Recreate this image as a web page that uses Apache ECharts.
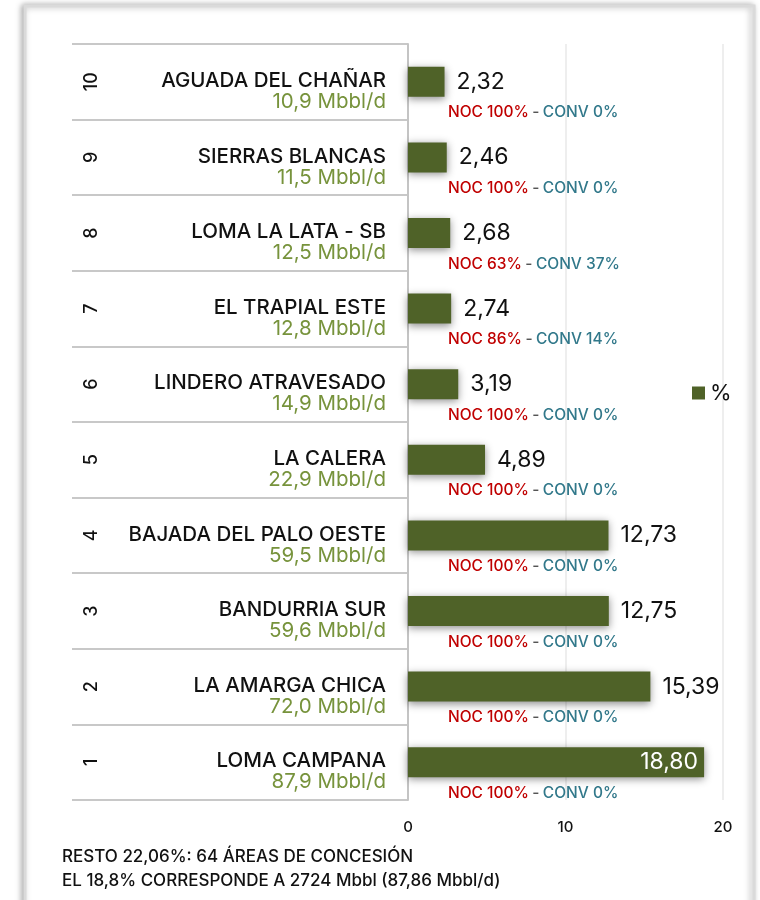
<!DOCTYPE html>
<html>
<head>
<meta charset="utf-8">
<script src="https://cdn.jsdelivr.net/npm/echarts@6/dist/echarts.min.js"></script>
<style>
  html, body { margin: 0; padding: 0; background: #fff; }
  #main { width: 760px; height: 900px; }
</style>
</head>
<body>
<div id="main"></div>
<script>
// rank 1 at bottom, rank 10 at top
var ranks = ['1', '2', '3', '4', '5', '6', '7', '8', '9', '10'];
var areas = ['LOMA CAMPANA', 'LA AMARGA CHICA', 'BANDURRIA SUR', 'BAJADA DEL PALO OESTE', 'LA CALERA',
             'LINDERO ATRAVESADO', 'EL TRAPIAL ESTE', 'LOMA LA LATA - SB', 'SIERRAS BLANCAS', 'AGUADA DEL CHAÑAR'];
var produccion = ['87,9', '72,0', '59,6', '59,5', '22,9', '14,9', '12,8', '12,5', '11,5', '10,9'];
var porcentaje = [18.80, 15.39, 12.75, 12.73, 4.89, 3.19, 2.74, 2.68, 2.46, 2.32];
var noc = [100, 100, 100, 100, 100, 100, 86, 63, 100, 100];
var conv = [0, 0, 0, 0, 0, 0, 14, 37, 0, 0];
var xTicks = [0, 10, 20];

var FONT = 'Inter';
var chart = echarts.init(document.getElementById('main'));

function coma(v) { return v.toFixed(2).replace('.', ','); }

chart.setOption({
  animation: false,
  textStyle: { fontFamily: FONT },
  title: {
    text: 'RESTO 22,06%: 64 ÁREAS DE CONCESIÓN\nEL 18,8% CORRESPONDE A 2724 Mbbl (87,86 Mbbl/d)',
    left: 57, top: 840,
    textStyle: { fontFamily: FONT, fontSize: 17, fontWeight: 500, color: '#111', lineHeight: 24 }
  },
  legend: {
    data: ['%'],
    left: 687, top: 377,
    icon: 'rect', itemWidth: 13, itemHeight: 13, itemGap: 8,
    textStyle: { fontFamily: FONT, fontSize: 22, color: '#111' }
  },
  graphic: [{
    type: 'rect', z: -10,
    shape: { x: 25, y: 6, width: 729, height: 940 },
    style: { fill: '#fff', stroke: '#dadada', lineWidth: 3, shadowBlur: 6, shadowColor: 'rgba(0,0,0,0.3)', shadowOffsetX: -2 }
  }],
  grid: [
    { left: 72, top: 44, width: 336, height: 756 },
    { left: 408, top: 44, width: 315, height: 756 }
  ],
  xAxis: [
    { gridIndex: 0, type: 'value', show: false },
    {
      gridIndex: 1, type: 'value', min: xTicks[0], max: xTicks[xTicks.length - 1], interval: 10,
      axisLine: { show: false }, axisTick: { show: false },
      splitLine: { lineStyle: { color: '#e8e8e8', width: 1.5 } },
      axisLabel: { fontSize: 15, fontWeight: 500, color: '#111', margin: 20 }
    }
  ],
  yAxis: [
    {
      gridIndex: 0, type: 'category', data: ranks, position: 'left', offset: -20,
      axisLine: { show: false }, axisTick: { show: false },
      splitLine: { show: true, interval: 0, lineStyle: { color: '#c8c8c8', width: 2 } },
      axisLabel: { rotate: 90, margin: 0, align: 'center', verticalAlign: 'middle', fontSize: 18, fontWeight: 500, color: '#111', interval: 0 }
    },
    {
      gridIndex: 1, type: 'category', data: areas, position: 'left',
      axisLine: { lineStyle: { color: '#c4c4c4', width: 2 } }, axisTick: { show: false },
      axisLabel: {
        interval: 0, margin: 22, align: 'right', padding: [19, 0, 0, 0],
        formatter: function (v, i) { return '{n|' + v + '}\n{p|' + produccion[i] + ' Mbbl/d}'; },
        rich: {
          n: { fontFamily: FONT, fontSize: 20.5, fontWeight: 500, color: '#111', lineHeight: 21, align: 'right' },
          p: { fontFamily: FONT, fontSize: 20.5, fontWeight: 'normal', color: '#77933c', lineHeight: 21, align: 'right' }
        }
      }
    },
    {
      gridIndex: 1, type: 'category', data: areas, position: 'left',
      axisLine: { show: false }, axisTick: { show: false },
      axisLabel: {
        inside: true, interval: 0, margin: 40, verticalAlign: 'top', padding: [23, 0, 0, 0],
        formatter: function (v, i) {
          return '{a|NOC ' + noc[i] + '%} {s|-} {b|CONV ' + conv[i] + '%}';
        },
        rich: {
          a: { fontFamily: FONT, fontSize: 15.5, fontWeight: 500, color: '#c00000' },
          s: { fontFamily: FONT, fontSize: 15.5, fontWeight: 500, color: '#555' },
          b: { fontFamily: FONT, fontSize: 15.5, fontWeight: 500, color: '#31788a' }
        }
      }
    }
  ],
  series: [{
    name: '%', type: 'bar', xAxisIndex: 1, yAxisIndex: 1,
    barWidth: 30,
    itemStyle: { color: '#4f6228', shadowBlur: 8, shadowColor: 'rgba(0,0,0,0.45)', shadowOffsetY: 2 },
    label: {
      show: true, position: 'right', distance: 12, fontSize: 23, color: '#111',
      formatter: function (p) { return coma(p.value); }
    },
    data: porcentaje.map(function (v, i) {
      if (i === 0) {
        return { value: v, label: { position: 'insideRight', color: '#fff', distance: 6 } };
      }
      return v;
    })
  }]
});
</script>
</body>
</html>
